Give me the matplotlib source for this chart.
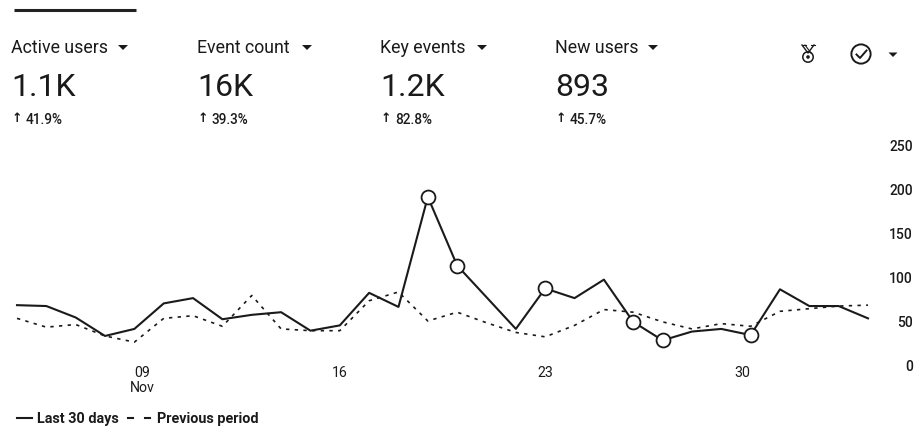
import matplotlib
matplotlib.use("Agg")
import matplotlib.pyplot as plt
from matplotlib.patches import Circle, Polygon

plt.rcParams['font.family'] = ['Roboto', 'DejaVu Sans']

last_30 = [68, 67, 54, 33, 41, 70, 76, 52, 57, 60, 39, 45, 82, 66, 191, 113, 77, 41, 87, 76,
           97, 49, 28, 38, 41, 34, 86, 67, 67, 53]
previous = [53, 43, 46, 33, 26, 53, 56, 44, 79, 41, 39, 39, 73, 83, 50, 60, 48, 37, 32, 45,
            63, 60, 49, 41, 47, 44, 61, 64, 67, 68]
circled = [14, 15, 18, 21, 22, 25]
day_index = list(range(30))
tick_days = [4.27, 11, 18, 24.73]
tick_labels = ['09\nNov', '16', '23', '30']
y_ticks = [0, 50, 100, 150, 200, 250]
metric_names = ['Active users', 'Event count', 'Key events', 'New users']
metric_values = ['1.1K', '16K', '1.2K', '893']
metric_changes = ['41.9%', '39.3%', '82.8%', '45.7%']

W, H = 917, 427
INK = '#1a1a1a'
fig = plt.figure(figsize=(W / 100, H / 100), dpi=100)

ov = fig.add_axes([0, 0, 1, 1])
ov.set_xlim(0, W)
ov.set_ylim(H, 0)
ov.axis('off')

x0, x1, y0, y1 = 17, 868, 366, 146
ax = fig.add_axes([x0 / W, 1 - y0 / H, (x1 - x0) / W, (y0 - y1) / H])
ax.patch.set_alpha(0)
ax.set_xlim(0, 29)
ax.set_ylim(0, 250)
for s in ax.spines.values():
    s.set_visible(False)
ax.plot(day_index, previous, color=INK, lw=1.2, ls=(0, (2, 3.2)), clip_on=False)
ax.plot(day_index, last_30, color=INK, lw=1.5, clip_on=False)
ax.plot(circled, [last_30[i] for i in circled], ls='none', marker='o', ms=10, mfc='white',
        mec=INK, mew=1.3, clip_on=False)
ax.set_xticks(tick_days)
ax.set_xticklabels(tick_labels, fontsize=10.2, color=INK, linespacing=1.1)
ax.tick_params(axis='x', length=0, pad=0)
ax.yaxis.tick_right()
ax.set_yticks(y_ticks)
ax.set_yticklabels([str(v) for v in y_ticks], fontsize=10, color=INK, ha='right', fontweight='medium')
ax.tick_params(axis='y', length=0, pad=32.4)

ov.plot([14, 136], [11, 11], color='#222222', lw=2.2, solid_capstyle='butt')

xs = [11, 197, 380, 555]
caret_x = [123, 307, 482, 653]
for x, cx, name, val, ch in zip(xs, caret_x, metric_names, metric_values, metric_changes):
    ov.text(x, 48, name, fontsize=12.8, color=INK, va='center', ha='left')
    ov.add_patch(Polygon([[cx - 5, 46], [cx + 5, 46], [cx, 51]], closed=True, color=INK, lw=0))
    ov.text(x, 87, val, fontsize=23, color=INK, va='center', ha='left')
    ov.text(x + 1, 119, '↑', fontsize=9, color=INK, va='center', ha='left', family=['DejaVu Sans'], fontweight='bold')
    ov.text(x + 15, 120, ch, fontsize=9.8, color=INK, va='center', ha='left', fontweight='medium')

# Medal icon
ov.plot([802, 808, 814], [46, 54, 46], color=INK, lw=1.0)
ov.plot([805, 811], [46, 54], color=INK, lw=0.8)
ov.plot([802, 806], [46, 46], color=INK, lw=0.8)
ov.plot([811, 815], [46, 46], color=INK, lw=0.8)
ov.add_patch(Circle((808, 58), 5.2, fc='none', ec=INK, lw=1.1))
ov.add_patch(Circle((808, 58), 1.8, fc=INK, ec='none'))

ov.add_patch(Circle((861, 55), 9.6, fc='none', ec=INK, lw=1.4))
ov.plot([856.5, 860, 866.5], [55.5, 59, 51.5], color=INK, lw=1.4)
ov.add_patch(Polygon([[888.5, 53.5], [897.5, 53.5], [893, 58]], closed=True, color=INK, lw=0))

LEG_Y = 419
ov.plot([17, 32], [LEG_Y, LEG_Y], color=INK, lw=1.5)
ov.text(37, LEG_Y, 'Last 30 days', fontsize=10.4, color=INK, va='center', ha='left', fontweight='bold')
ov.plot([128, 133], [LEG_Y, LEG_Y], color=INK, lw=1.5)
ov.plot([145, 150], [LEG_Y, LEG_Y], color=INK, lw=1.5)
ov.text(157, LEG_Y, 'Previous period', fontsize=10.4, color=INK, va='center', ha='left', fontweight='bold')

fig.savefig('out.png', dpi=100)
